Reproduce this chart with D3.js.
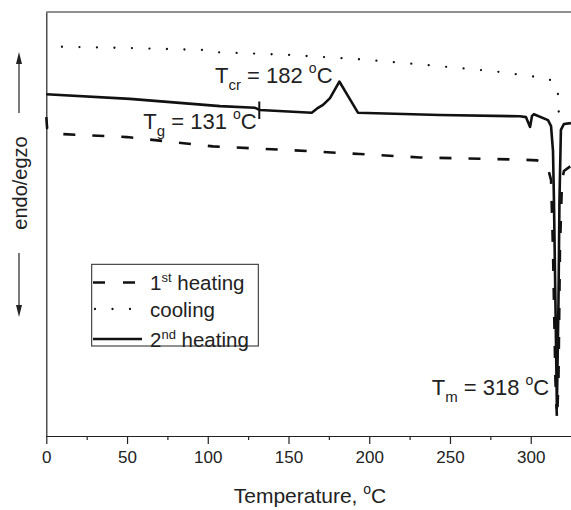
<!DOCTYPE html>
<html>
<head>
<meta charset="utf-8">
<script src="https://cdn.jsdelivr.net/npm/d3@7"></script>
<style>
  body { margin: 0; background: #fff; }
  svg { display: block; font-family: "Liberation Sans", Arial, sans-serif; }
</style>
</head>
<body>
<svg id="dsc" width="571" height="510"></svg>
<script>
// DSC curves, signal in arbitrary units (no y ticks on the original)
var heat1T = [0, 0.5, 3, 10.3, 50, 103.2, 152.2, 194.2, 231.4, 293.3, 303.9, 310.1, 312.6, 313.8, 315.3, 316.3, 317.2, 318.1, 319.4, 320.6, 324.9];
var heat1V = [75.2, 72.6, 71.7, 71.2, 70.5, 68.3, 67.4, 66.5, 65.7, 65.2, 65.0, 63.9, 60.4, 43.9, 13.2, 3.8, 13.2, 43.9, 60.4, 62.5, 63.7];

var coolT = [9.7, 51.8, 101.4, 106.3, 149, 192.4, 235.8, 277.9, 298.9, 310.1, 315, 316.7, 317.3, 317.5];
var coolV = [91.8, 91.5, 91.0, 90.5, 89.9, 88.9, 87.5, 86.0, 84.9, 84.4, 83.3, 81.8, 77.8, 73.6];

var heat2T = [0, 51.8, 107.6, 129.3, 132.3, 164.4, 168.3, 171.4, 175.7, 181.5, 186.8, 193, 243.8, 293.4, 297.1, 299.6, 300.8, 302, 310.7, 312.6, 313.8, 314.4, 315.3, 316.2, 317.2, 317.8, 318.7, 320.6, 324.9];
var heat2V = [80.6, 79.5, 77.8, 77.4, 76.9, 76.25, 77.4, 78.1, 79.7, 83.6, 80.2, 76.25, 75.7, 75.4, 75.2, 72.9, 75.5, 75.9, 74.5, 73.1, 67.2, 55.4, 31.8, 6.6, 31.8, 55.4, 72.2, 73.6, 73.8];

var xTicks = [0, 50, 100, 150, 200, 250, 300];
var xMinor = [25, 75, 125, 175, 225, 275];

var svg = d3.select("#dsc"),
    margin = {top: 12, left: 46.3, bottom: 74},
    height = +svg.attr("height") - margin.bottom;

var x = d3.scaleLinear().domain([0, 330]).range([margin.left, margin.left + 330 * 1.6147]);
var y = d3.scaleLinear().domain([0, 100]).range([height, margin.top]);

function pairs(ts, vs) { return ts.map(function(t, i) { return [t, vs[i]]; }); }

var line = d3.line()
    .x(function(d) { return x(d[0]); })
    .y(function(d) { return y(d[1]); });

// frame
svg.append("line")
    .attr("x1", margin.left).attr("x2", 571)
    .attr("y1", margin.top).attr("y2", margin.top)
    .attr("stroke", "#222").attr("stroke-width", 1.2);

svg.append("g")
    .attr("transform", "translate(" + margin.left + ",0)")
    .call(d3.axisLeft(y).tickValues([]).tickSizeOuter(0))
    .select(".domain").attr("stroke", "#222").attr("stroke-width", 1.2);

var xAxis = svg.append("g")
    .attr("transform", "translate(0," + height + ")")
    .call(d3.axisBottom(x).tickValues(xTicks).tickSize(8).tickSizeOuter(0).tickPadding(7));
xAxis.select(".domain").attr("stroke", "#222").attr("stroke-width", 1.2);
xAxis.selectAll(".tick line").attr("stroke", "#222").attr("stroke-width", 1.2);
xAxis.selectAll(".tick text")
    .attr("font-size", 17).attr("font-family", "Liberation Sans, Arial, sans-serif").attr("fill", "#222");

svg.append("g")
    .attr("transform", "translate(0," + height + ")")
    .call(d3.axisBottom(x).tickValues(xMinor).tickSize(4).tickFormat("").tickSizeOuter(0))
    .call(function(g) { g.select(".domain").remove(); })
    .selectAll(".tick line").attr("stroke", "#222").attr("stroke-width", 1.2);

// axis titles
var xt = svg.append("text")
    .attr("x", 310).attr("y", 503)
    .attr("text-anchor", "middle")
    .attr("font-size", 21).attr("fill", "#222");
xt.append("tspan").text("Temperature, ");
xt.append("tspan").attr("font-size", 14).attr("dy", -9).text("o");
xt.append("tspan").attr("dy", 9).text("C");

svg.append("text")
    .attr("transform", "translate(27,183) rotate(-90)")
    .attr("text-anchor", "middle")
    .attr("font-size", 20).attr("fill", "#222")
    .text("endo/egzo");

// up / down arrows beside the y title
[[113, 52], [253, 317]].forEach(function(a) {
  var dir = a[1] < a[0] ? -1 : 1;
  svg.append("line")
      .attr("x1", 19).attr("x2", 19)
      .attr("y1", a[0]).attr("y2", a[1] - dir * 10)
      .attr("stroke", "#333").attr("stroke-width", 1.3);
  svg.append("path")
      .attr("d", "M19," + a[1] + "L16," + (a[1] - dir * 12) + "L22," + (a[1] - dir * 12) + "Z")
      .attr("fill", "#222");
});

// curves
svg.append("path")
    .datum(pairs(coolT, coolV))
    .attr("d", line)
    .attr("fill", "none").attr("stroke", "#111")
    .attr("stroke-width", 2.3).attr("stroke-linecap", "round")
    .attr("stroke-dasharray", "0,17.5");

svg.append("path")
    .datum(pairs(heat1T, heat1V))
    .attr("d", line)
    .attr("fill", "none").attr("stroke", "#111")
    .attr("stroke-width", 2.6)
    .attr("stroke-dasharray", "12,17");

svg.append("path")
    .datum(pairs(heat2T, heat2V))
    .attr("d", line)
    .attr("fill", "none").attr("stroke", "#111")
    .attr("stroke-width", 2.6).attr("stroke-linejoin", "round");

// Tg marker
svg.append("line")
    .attr("x1", x(131.9)).attr("x2", x(131.9))
    .attr("y1", 101.5).attr("y2", 119)
    .attr("stroke", "#111").attr("stroke-width", 2);

// annotations
function label(x0, y0, main, sub) {
  var t = svg.append("text").attr("x", x0).attr("y", y0)
      .attr("font-size", 22).attr("fill", "#222");
  t.append("tspan").text("T");
  t.append("tspan").attr("font-size", 15).attr("dy", 7).text(sub);
  t.append("tspan").attr("dy", -7).text(" = " + main + " ");
  t.append("tspan").attr("font-size", 14).attr("dy", -10).text("o");
  t.append("tspan").attr("dy", 10).text("C");
}
label(215, 83.3, "182", "cr");
label(143.3, 129.3, "131", "g");
label(431.7, 395, "318", "m");

// legend
var legendItems = [
  {name: "1", sup: "st", rest: " heating", dash: "12,18", cap: "butt", w: 2.6},
  {name: "cooling", sup: "", rest: "", dash: "0,17.5", cap: "round", w: 2.3},
  {name: "2", sup: "nd", rest: " heating", dash: null, cap: "butt", w: 2.6}
];
var legendY = [282.5, 309, 339];

svg.append("rect")
    .attr("x", 91.7).attr("y", 264.3)
    .attr("width", 166.6).attr("height", 81.7)
    .attr("fill", "#fff").attr("stroke", "#222").attr("stroke-width", 1);

var leg = svg.selectAll(".leg").data(legendItems).enter().append("g").attr("class", "leg");
leg.append("line")
    .attr("x1", function(d) { return d.cap === "round" ? 95 : 93; })
    .attr("x2", 142)
    .attr("y1", function(d, i) { return legendY[i]; })
    .attr("y2", function(d, i) { return legendY[i]; })
    .attr("stroke", "#111")
    .attr("stroke-width", function(d) { return d.w; })
    .attr("stroke-linecap", function(d) { return d.cap; })
    .attr("stroke-dasharray", function(d) { return d.dash; });

var legText = leg.append("text")
    .attr("x", 150)
    .attr("y", function(d, i) { return legendY[i] + 7.5; })
    .attr("font-size", 20.5).attr("fill", "#222");
legText.append("tspan").text(function(d) { return d.name; });
legText.append("tspan").attr("font-size", 13).attr("dy", -8).text(function(d) { return d.sup; });
legText.append("tspan").attr("dy", 8).text(function(d) { return d.rest; });
</script>
</body>
</html>
